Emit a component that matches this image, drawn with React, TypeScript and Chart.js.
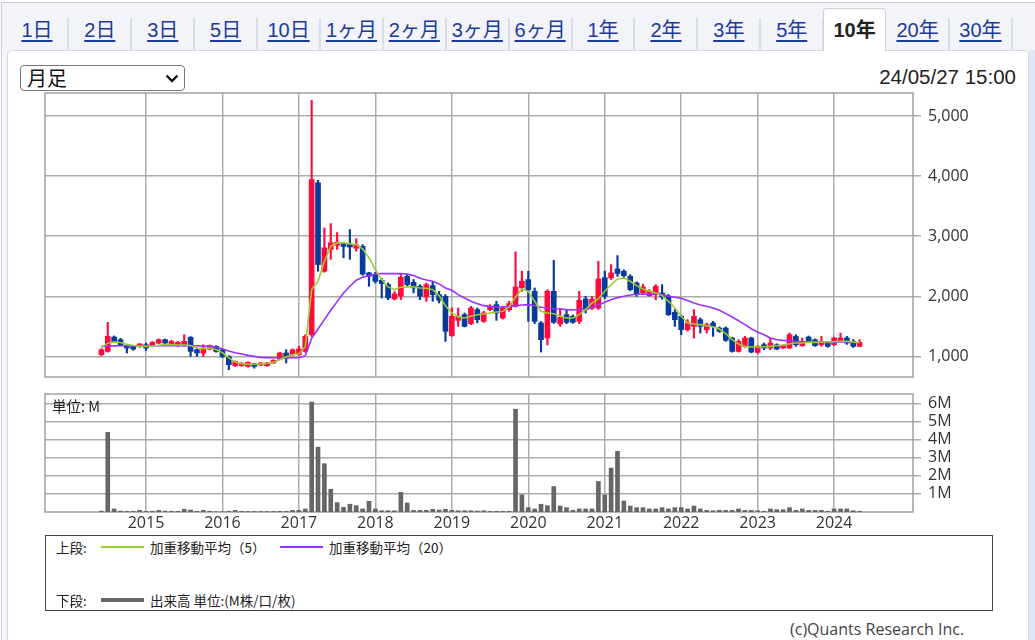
import React, { useEffect, useRef } from "react";
import { Chart, registerables } from "chart.js";

Chart.register(...registerables);

// ---- data (monthly, Jun 2014 .. May 2024) ----
const firstYear = 2014;
const firstMonth = 6; // June
const firstOffset = -7; // months relative to Jan 2015

const yearLabels = ["2015", "2016", "2017", "2018", "2019", "2020", "2021", "2022", "2023", "2024"];
const priceTicks = [1000, 2000, 3000, 4000, 5000];
const volumeTicks = [1, 2, 3, 4, 5, 6];

const openP = [
  1030, 1083, 1322, 1278, 1178, 1167, 1167,
  1194, 1178, 1222, 1278, 1194, 1178, 1178, 1317, 1111, 1056, 1122, 1167,
  1111, 1000, 844, 844, 833, 878, 856, 844, 889, 956, 1056, 1028,
  1028, 1083, 1361, 3889, 2417, 2780, 2850, 2880, 2870, 2800, 2830, 2390,
  2361, 2267, 2194, 1956, 2000, 2333, 2233, 2167, 1989, 2178, 2028, 2000,
  1344, 1600, 1694, 1544, 1778, 1583, 1778, 1861, 1639, 1778, 1833, 2139,
  2278, 2083, 1556, 1306, 2083, 1540, 1694, 1667, 1583, 1956, 1800, 1806,
  2310, 2306, 2455, 2417, 2333, 2222, 2056, 2011, 2028, 2056, 2005, 1733,
  1667, 1444, 1500, 1611, 1444, 1556, 1472, 1472, 1306, 1083, 1167, 1306,
  1067, 1194, 1139, 1194, 1139, 1139, 1333, 1178, 1322, 1278, 1194, 1233,
  1194, 1250, 1306, 1250, 1167,
];
const highP = [
  1130, 1567, 1340, 1300, 1190, 1180, 1215,
  1222, 1245, 1290, 1290, 1265, 1250, 1361, 1330, 1130, 1194, 1190, 1180,
  1120, 1010, 925, 900, 910, 885, 900, 900, 945, 1070, 1111, 1125,
  1167, 1361, 5261, 3930, 3137, 3209, 3060, 2900, 3110, 2960, 2860, 2400,
  2400, 2300, 2222, 2080, 2361, 2361, 2280, 2194, 2222, 2250, 2083, 2028,
  1806, 1806, 1722, 1833, 1806, 1750, 1861, 1917, 1830, 1917, 2739, 2417,
  2417, 2139, 1580, 2111, 2600, 1800, 1778, 1690, 2083, 2000, 2000, 2583,
  2420, 2528, 2678, 2440, 2360, 2240, 2200, 2110, 2194, 2194, 2030, 1778,
  1690, 1611, 1778, 1640, 1556, 1583, 1490, 1490, 1320, 1278, 1333, 1320,
  1180, 1222, 1306, 1210, 1190, 1389, 1361, 1306, 1340, 1290, 1333, 1250,
  1320, 1389, 1333, 1280, 1278,
];
const lowP = [
  1010, 1070, 1230, 1180, 1056, 1100, 1150,
  1100, 1160, 1210, 1210, 1180, 1160, 1165, 1000, 1000, 1000, 1110, 1070,
  980, 778, 830, 835, 820, 805, 845, 835, 880, 950, 889, 1015,
  1015, 1070, 1330, 2417, 2400, 2615, 2780, 2640, 2615, 2750, 2350, 2167,
  2222, 1972, 1944, 1940, 1944, 2167, 2056, 1944, 1917, 1917, 1889, 1250,
  1333, 1500, 1489, 1528, 1556, 1567, 1760, 1600, 1620, 1750, 1820, 2083,
  1583, 1544, 1072, 1189, 1550, 1500, 1544, 1550, 1544, 1722, 1780, 1780,
  1960, 2280, 2330, 2300, 2090, 2000, 2030, 2000, 1944, 1950, 1680, 1500,
  1361, 1420, 1306, 1389, 1389, 1333, 1400, 1250, 1070, 1072, 1150, 1060,
  1050, 1111, 1111, 1110, 1130, 1130, 1167, 1167, 1240, 1167, 1167, 1150,
  1180, 1240, 1200, 1150, 1160,
];
const closeP = [
  1110, 1333, 1250, 1194, 1139, 1122, 1206,
  1139, 1233, 1278, 1222, 1250, 1233, 1250, 1083, 1056, 1139, 1178, 1083,
  1000, 861, 917, 889, 900, 833, 889, 889, 933, 1056, 972, 1111,
  1122, 1333, 3944, 2528, 2807, 2890, 2900, 2830, 2820, 2860, 2370, 2333,
  2250, 2211, 1972, 2039, 2317, 2194, 2139, 2000, 2194, 2028, 1933, 1417,
  1667, 1660, 1500, 1806, 1611, 1722, 1833, 1722, 1806, 1878, 2156, 2250,
  2111, 1583, 1278, 2083, 1567, 1650, 1567, 1567, 1933, 1778, 1950, 2289,
  2000, 2389, 2378, 2344, 2111, 2028, 2156, 2083, 2167, 1990, 1694, 1611,
  1444, 1556, 1667, 1500, 1528, 1500, 1417, 1267, 1083, 1250, 1306, 1072,
  1167, 1139, 1222, 1122, 1178, 1361, 1194, 1250, 1250, 1178, 1250, 1167,
  1306, 1306, 1222, 1167, 1233,
];
// volume in millions
const volumeM = [
  0.05, 4.41, 0.17, 0.05, 0.04, 0.04, 0.09,
  0.04, 0.04, 0.09, 0.05, 0.04, 0.04, 0.15, 0.11, 0.04, 0.09, 0.04, 0.02,
  0.02, 0.04, 0.09, 0.04, 0.03, 0.03, 0.03, 0.03, 0.03, 0.04, 0.04, 0.09,
  0.09, 0.17, 6.09, 3.59, 2.67, 1.26, 0.52, 0.26, 0.43, 0.35, 0.17, 0.59,
  0.17, 0.07, 0.07, 0.07, 1.09, 0.5, 0.09, 0.09, 0.09, 0.15, 0.11, 0.15,
  0.09, 0.07, 0.07, 0.07, 0.05, 0.07, 0.04, 0.04, 0.04, 0.04, 5.69, 0.95,
  0.24, 0.17, 0.43, 0.35, 1.41, 0.33, 0.24, 0.09, 0.17, 0.17, 0.17, 1.69,
  0.95, 2.43, 3.36, 0.61, 0.33, 0.24, 0.24, 0.17, 0.17, 0.24, 0.17, 0.24,
  0.24, 0.17, 0.33, 0.17, 0.09, 0.07, 0.09, 0.09, 0.09, 0.17, 0.09, 0.09,
  0.07, 0.04, 0.17, 0.13, 0.13, 0.24, 0.09, 0.17, 0.09, 0.09, 0.09, 0.04,
  0.17, 0.17, 0.17, 0.07, 0.04,
];
const wma5 = [
  1150, 1220, 1240, 1230, 1200, 1180, 1170,
  1165, 1170, 1185, 1195, 1195, 1190, 1190, 1180, 1140, 1130, 1140, 1115,
  1060, 975, 905, 880, 870, 870, 875, 885, 900, 945, 995, 1025,
  1045, 1160, 2111, 2250, 2583, 2833, 2889, 2889, 2872, 2861, 2789, 2639,
  2444, 2278, 2156, 2111, 2150, 2156, 2156, 2139, 2133, 2111, 2011, 1844,
  1722, 1656, 1639, 1667, 1694, 1706, 1722, 1739, 1750, 1822, 1989, 2122,
  2083, 1917, 1750, 1722, 1711, 1667, 1639, 1639, 1694, 1778, 1889, 1956,
  2083, 2194, 2289, 2306, 2250, 2178, 2122, 2083, 2056, 2011, 1917, 1806,
  1667, 1556, 1539, 1528, 1511, 1489, 1456, 1378, 1278, 1206, 1167, 1156,
  1156, 1161, 1167, 1178, 1189, 1211, 1222, 1222, 1233, 1233, 1239, 1239,
  1244, 1250, 1250, 1239, 1233,
];
const wma20 = [
  1167, 1172, 1175, 1178, 1178, 1178, 1178,
  1178, 1178, 1178, 1178, 1178, 1178, 1178, 1178, 1178, 1172, 1167, 1155,
  1122, 1089, 1061, 1039, 1017, 1000, 983, 978, 978, 978, 978, 978,
  978, 1011, 1300, 1456, 1611, 1767, 1911, 2055, 2167, 2267, 2317, 2344,
  2372, 2378, 2378, 2378, 2378, 2372, 2344, 2300, 2272, 2250, 2206, 2139,
  2100, 2028, 1972, 1917, 1878, 1844, 1833, 1822, 1822, 1833, 1844, 1856,
  1861, 1844, 1817, 1806, 1794, 1789, 1778, 1772, 1778, 1789, 1822, 1856,
  1900, 1944, 1978, 2000, 2022, 2033, 2033, 2033, 2033, 2028, 2000, 1985,
  1967, 1928, 1889, 1856, 1833, 1806, 1767, 1711, 1656, 1594, 1528, 1461,
  1406, 1361, 1306, 1278, 1267, 1261, 1250, 1244, 1239, 1239, 1233, 1233,
  1233, 1239, 1239, 1233, 1222,
];

const tabs = ["1日", "2日", "3日", "5日", "10日", "1ヶ月", "2ヶ月", "3ヶ月", "6ヶ月", "1年", "2年", "3年", "5年", "10年", "20年", "30年"];
const activeTab = "10年";

// ---- styles ----
const UP = "#ff0a3c";
const DOWN = "#063a9c";
const GRID = "#ababab";
const MA5_COLOR = "#9acd32";
const MA20_COLOR = "#9b30ff";
const VOL_COLOR = "#666666";
const AXIS_FONT = { family: "'Open Sans', 'DejaVu Sans', sans-serif", size: 16 };
const X_MIN = -15.85;
const X_MAX = 120.38;
const CJK = "'Noto Sans CJK JP', 'Noto Sans', sans-serif";
const LATIN = "'Liberation Sans', Arial, 'Noto Sans CJK JP', sans-serif";

const xOf = (i: number) => i + firstOffset;
const yearTickValues = yearLabels.map((y) => (Number(y) - 2015) * 12);
const monthName = (i: number) => {
  const t = firstYear * 12 + (firstMonth - 1) + i;
  return `${Math.floor(t / 12)}/${String((t % 12) + 1).padStart(2, "0")}`;
};

const noPad = (s: any) => {
  s.paddingTop = 0;
  s.paddingBottom = 0;
  s.paddingLeft = 0;
  s.paddingRight = 0;
};

const framePlugin = {
  id: "frame",
  beforeDatasetsDraw(chart: any) {
    const { ctx, chartArea: a } = chart;
    ctx.save();
    ctx.strokeStyle = "#a0a0a0";
    ctx.lineWidth = 1.5;
    ctx.strokeRect(a.left, a.top, a.right - a.left, a.bottom - a.top);
    ctx.restore();
  },
};

function PriceChart() {
  const ref = useRef<HTMLCanvasElement>(null);
  useEffect(() => {
    const colors = openP.map((o, i) => (closeP[i] >= o ? UP : DOWN));
    const chart = new Chart(ref.current as HTMLCanvasElement, {
      type: "bar",
      data: {
        labels: openP.map((_, i) => monthName(i)),
        datasets: [
          {
            type: "line",
            label: "加重移動平均（5）",
            data: wma5.map((v, i) => ({ x: xOf(i), y: v })),
            borderColor: MA5_COLOR,
            borderWidth: 1.6,
            pointRadius: 0,
            tension: 0,
            order: 0,
          } as any,
          {
            type: "line",
            label: "加重移動平均（20）",
            data: wma20.map((v, i) => ({ x: xOf(i), y: v })),
            borderColor: MA20_COLOR,
            borderWidth: 1.6,
            pointRadius: 0,
            tension: 0,
            order: 1,
          } as any,
          {
            type: "bar",
            label: "body",
            data: openP.map((o, i) => ({ x: xOf(i), y: [o, closeP[i]] })),
            backgroundColor: colors,
            borderWidth: 0,
            barThickness: 5,
            minBarLength: 1.5,
            grouped: false,
            order: 2,
          } as any,
          {
            type: "bar",
            label: "wick",
            data: lowP.map((l, i) => ({ x: xOf(i), y: [l, highP[i]] })),
            backgroundColor: colors,
            borderWidth: 0,
            barThickness: 1.5,
            grouped: false,
            order: 3,
          } as any,
        ],
      },
      options: {
        animation: false,
        responsive: false,
        maintainAspectRatio: false,
        layout: { padding: { left: 5, top: 5, bottom: 5, right: 0 } },
        plugins: { legend: { display: false }, tooltip: { enabled: false } },
        scales: {
          x: {
            type: "linear",
            min: X_MIN,
            max: X_MAX,
            offset: false,
            afterBuildTicks: (s: any) => {
              s.ticks = yearTickValues.map((v) => ({ value: v }));
            },
            afterFit: (s: any) => {
              s.height = 0;
              noPad(s);
            },
            ticks: { display: false, autoSkip: false },
            grid: { color: GRID, lineWidth: 1.5, drawTicks: false, offset: false },
            border: { display: false },
          },
          y: {
            type: "linear",
            position: "right",
            min: 657,
            max: 5383,
            afterBuildTicks: (s: any) => {
              s.ticks = priceTicks.map((v) => ({ value: v }));
            },
            afterFit: (s: any) => {
              s.width = 122;
              noPad(s);
            },
            ticks: {
              color: "#333",
              font: AXIS_FONT,
              padding: 7,
              autoSkip: false,
              callback: (v: any) => Number(v).toLocaleString("en-US"),
            },
            grid: { color: GRID, lineWidth: 1.5, drawTicks: true, tickLength: 8 },
            border: { display: false },
          },
        },
      } as any,
      plugins: [framePlugin],
    });
    return () => chart.destroy();
  }, []);
  return (
    <canvas
      ref={ref}
      width={995}
      height={294}
      style={{ position: "absolute", left: 40, top: 88, width: 995, height: 294 }}
    />
  );
}

function VolumeChart() {
  const ref = useRef<HTMLCanvasElement>(null);
  useEffect(() => {
    const chart = new Chart(ref.current as HTMLCanvasElement, {
      type: "bar",
      data: {
        labels: volumeM.map((_, i) => monthName(i)),
        datasets: [
          {
            label: "出来高",
            data: volumeM.map((v, i) => ({ x: xOf(i), y: v })),
            backgroundColor: VOL_COLOR,
            borderWidth: 0,
            barThickness: 4,
            grouped: false,
          } as any,
        ],
      },
      options: {
        animation: false,
        responsive: false,
        maintainAspectRatio: false,
        layout: { padding: { left: 5, top: 5, bottom: 0, right: 0 } },
        plugins: { legend: { display: false }, tooltip: { enabled: false } },
        scales: {
          x: {
            type: "linear",
            min: X_MIN,
            max: X_MAX,
            offset: false,
            afterBuildTicks: (s: any) => {
              s.ticks = yearTickValues.map((v) => ({ value: v }));
            },
            afterFit: (s: any) => {
              s.height = 22;
              noPad(s);
            },
            ticks: {
              color: "#333",
              font: AXIS_FONT,
              padding: 2,
              maxRotation: 0,
              autoSkip: false,
              callback: (v: any) => yearLabels[yearTickValues.indexOf(Number(v))] ?? "",
            },
            grid: { color: GRID, lineWidth: 1.5, drawTicks: false, offset: false },
            border: { display: false },
          },
          y: {
            type: "linear",
            position: "right",
            min: 0,
            max: 6.53,
            afterBuildTicks: (s: any) => {
              s.ticks = volumeTicks.map((v) => ({ value: v }));
            },
            afterFit: (s: any) => {
              s.width = 122;
              noPad(s);
            },
            ticks: {
              color: "#333",
              font: AXIS_FONT,
              padding: 7,
              autoSkip: false,
              callback: (v: any) => `${v}M`,
            },
            grid: { color: GRID, lineWidth: 1.5, drawTicks: true, tickLength: 8 },
            border: { display: false },
          },
        },
      } as any,
      plugins: [framePlugin],
    });
    return () => chart.destroy();
  }, []);
  return (
    <canvas
      ref={ref}
      width={995}
      height={145}
      style={{ position: "absolute", left: 40, top: 389, width: 995, height: 145 }}
    />
  );
}

const TAB_LEFT = 5.5;
const TAB_W = 62.9;

export default function App() {
  return (
    <div
      style={{
        position: "absolute",
        left: 0,
        top: 0,
        width: 1035,
        height: 640,
        overflow: "hidden",
        background: "#ffffff",
        fontFamily: LATIN,
      }}
    >
      {/* outer frame */}
      <div
        style={{
          position: "absolute",
          left: 1,
          top: 2,
          width: 1060,
          height: 700,
          background: "#f2f4f9",
          border: "1px solid #c9cdd5",
        }}
      />
      {/* tabs */}
      {tabs.map((t, i) => {
        const active = t === activeTab;
        return (
          <div
            key={t}
            style={{
              position: "absolute",
              left: TAB_LEFT + i * TAB_W,
              top: 8,
              width: TAB_W,
              height: 43,
              boxSizing: "border-box",
              background: active ? "#ffffff" : "transparent",
              border: active ? "1px solid #cdd2db" : "none",
              borderBottom: "none",
              borderRadius: active ? "4px 4px 0 0" : 0,
              zIndex: active ? 3 : 1,
            }}
          >
            {!active && (
              <div
                style={{
                  position: "absolute",
                  right: -1,
                  top: 10,
                  width: 2,
                  height: 32,
                  background: "#dadee6",
                }}
              />
            )}
            <div
              style={{
                position: "absolute",
                left: 0,
                right: 0,
                top: active ? 9 : 10,
                textAlign: "center",
                fontSize: 20,
                lineHeight: "24px",
                fontWeight: active ? 700 : 400,
                color: active ? "#222222" : "#1c3b9b",
                textDecoration: active ? "none" : "underline",
                textUnderlineOffset: 3,
              }}
            >
              {t}
            </div>
          </div>
        );
      })}
      {/* panel */}
      <div
        style={{
          position: "absolute",
          left: 7,
          top: 50,
          width: 1022,
          height: 640,
          boxSizing: "border-box",
          background: "#ffffff",
          border: "1px solid #d3d8e1",
          borderRadius: "5px 5px 0 0",
          zIndex: 2,
        }}
      />
      <div
        style={{
          position: "absolute",
          left: 1029,
          top: 50,
          width: 6,
          height: 600,
          background: "#dee6f5",
          zIndex: 2,
        }}
      />
      <div style={{ position: "absolute", left: 0, top: 0, width: 1035, height: 640, zIndex: 4 }}>
        {/* select */}
        <div
          style={{
            position: "absolute",
            left: 20,
            top: 65,
            width: 165,
            height: 26,
            boxSizing: "border-box",
            border: "1px solid #767676",
            borderRadius: 4,
            background: "#fff",
          }}
        >
          <span
            style={{
              position: "absolute",
              left: 6,
              top: 0,
              fontFamily: CJK,
              fontSize: 20,
              lineHeight: "24px",
              color: "#111",
            }}
          >
            月足
          </span>
          <svg
            width="14"
            height="9"
            viewBox="0 0 14 9"
            style={{ position: "absolute", left: 144, top: 8 }}
          >
            <polyline points="1.5,1.5 7,7 12.5,1.5" fill="none" stroke="#111" strokeWidth="2.4" />
          </svg>
        </div>
        {/* date */}
        <div
          style={{
            position: "absolute",
            right: 19,
            top: 65,
            fontSize: 20.5,
            lineHeight: "24px",
            color: "#222",
          }}
        >
          24/05/27 15:00
        </div>

        <PriceChart />
        <VolumeChart />

        <div
          style={{
            position: "absolute",
            left: 52,
            top: 397,
            fontFamily: CJK,
            fontSize: 14.5,
            lineHeight: "18px",
            color: "#222",
          }}
        >
          単位: M
        </div>

        {/* legend box */}
        <div
          style={{
            position: "absolute",
            left: 45,
            top: 535,
            width: 948,
            height: 76,
            boxSizing: "border-box",
            border: "1.5px solid #444",
            fontFamily: CJK,
            fontSize: 13.5,
            color: "#222",
          }}
        >
          <span style={{ position: "absolute", left: 10, top: 2, lineHeight: "18px" }}>上段:</span>
          <div style={{ position: "absolute", left: 55, top: 10, width: 43, height: 1.6, background: MA5_COLOR }} />
          <span style={{ position: "absolute", left: 104, top: 2, lineHeight: "18px" }}>加重移動平均（5）</span>
          <div style={{ position: "absolute", left: 234, top: 10, width: 43, height: 1.6, background: MA20_COLOR }} />
          <span style={{ position: "absolute", left: 283, top: 2, lineHeight: "18px" }}>加重移動平均（20）</span>

          <span style={{ position: "absolute", left: 10, top: 55, lineHeight: "18px" }}>下段:</span>
          <div style={{ position: "absolute", left: 55, top: 62, width: 43, height: 4, background: VOL_COLOR }} />
          <span style={{ position: "absolute", left: 104, top: 55, lineHeight: "18px" }}>出来高 単位:(M株/口/枚)</span>
        </div>

        {/* footer */}
        <div
          style={{
            position: "absolute",
            left: 790,
            top: 618,
            fontFamily: "'Open Sans', sans-serif",
            fontSize: 16,
            lineHeight: "22px",
            color: "#444",
          }}
        >
          (c)Quants Research Inc.
        </div>
      </div>
    </div>
  );
}
